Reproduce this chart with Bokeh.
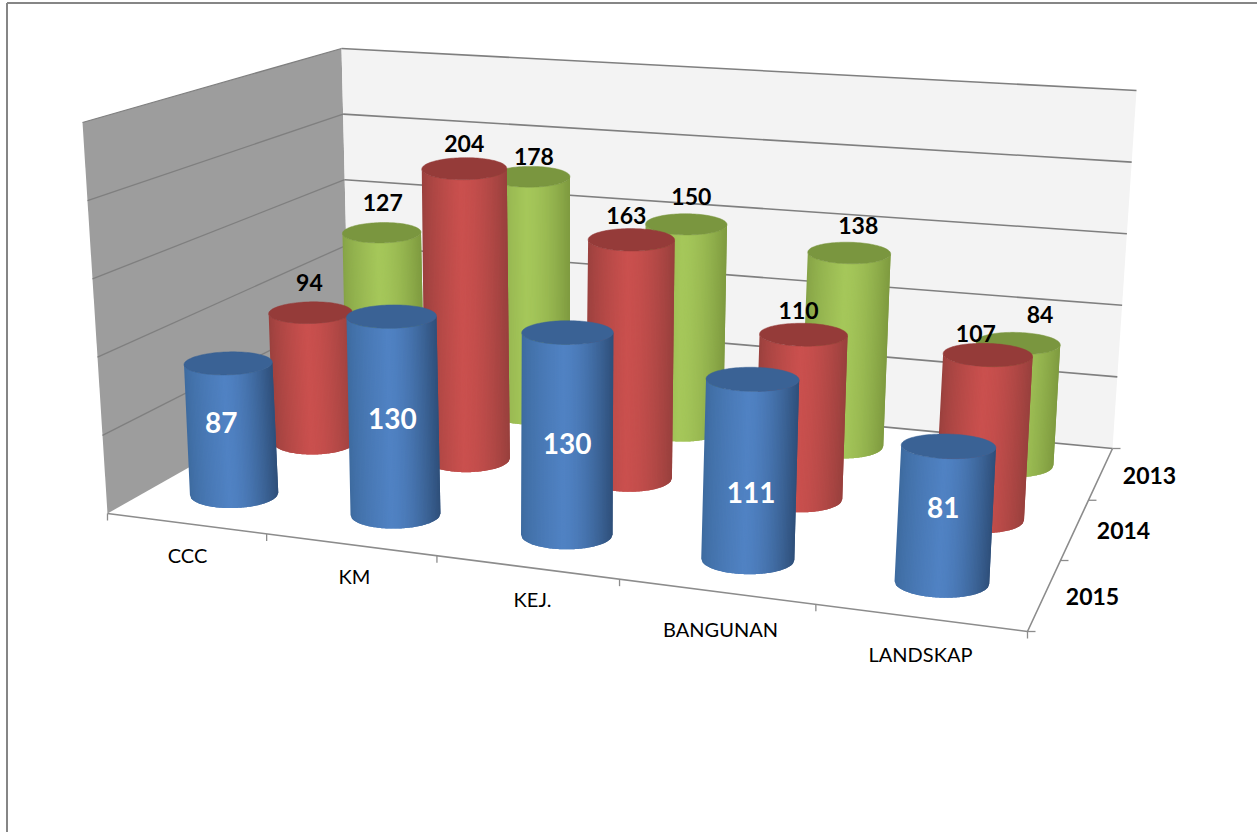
import numpy as np
from bokeh.plotting import figure
from bokeh.embed import file_html
from bokeh.resources import INLINE
from bokeh.core.properties import value as fixed

# ---------- data ----------
categories = ["CCC", "KM", "KEJ.", "BANGUNAN", "LANDSKAP"]
years = ["2015", "2014", "2013"]
values_2015 = [87, 130, 130, 111, 81]
values_2014 = [94, 204, 163, 110, 107]
values_2013 = [127, 178, 150, 138, 84]
value_ticks = [0, 50, 100, 150, 200, 250]

# ---------- layout ----------
W, H = 1257, 832
FONT = "Lato"
AXIS_MAX = 250.0
floor_quad = [(107, 513), (1027, 631), (1112, 448), (349, 376)]
top_quad = [(82, 122), (1052, 205), (1136, 90), (341, 48)]
U_CENTERS = [0.445, 1.465, 2.478, 3.478, 4.478]
Y_SHIFT = [6, 6, 6, 7, 7]
ROW_Y = {"2015": [0, 1, 1, 3, 3], "2014": [-4, -3, -1, 0, 1], "2013": [-3, -5, -3, -3, -1]}
ROW_SCALE = {
    "2015": [0.985, 0.98, 0.985, 1.01, 1.03],
    "2014": [0.95, 0.97, 0.98, 0.98, 0.992],
    "2013": [0.97, 0.957, 0.97, 0.975, 0.986],
}
V_SHIFT = 0.13
A_RATIO, B_TOP, B_BASE, TILT = 0.116, 0.26, 0.32, 7.7e-5

palettes = {
    "2015": dict(left="#3d6a9e", mid="#5082c3", right="#2e4f79", top="#3a6295"),
    "2014": dict(left="#98403d", mid="#ca504e", right="#98403d", top="#953b39"),
    "2013": dict(left="#84a145", mid="#a5c75a", right="#7e9a3f", top="#7a963f"),
}
label_off = {
    "2013": [(1, -30.5), (4, -20.5), (5, -28), (9, -27), (22, -28.5)],
    "2014": [(-1, -30), (0, -25), (-5, -24), (-5, -24), (-12, -22)],
    "2015": [(-10, -6), (-1, 3), (0, 10), (1, 23), (-2, -6.5)],
}
cat_label_xy = [(187, 554), (354, 575), (532, 598), (720, 628), (920, 653)]
year_label_xy = [(1092, 596), (1123, 530), (1149, 475)]


def homography(quad):
    src = [(0, 0), (5, 0), (5, 3), (0, 3)]
    A, b = [], []
    for (u, v), (x, y) in zip(src, quad):
        A.append([u, v, 1, 0, 0, 0, -u * x, -v * x]); b.append(x)
        A.append([0, 0, 0, u, v, 1, -u * y, -v * y]); b.append(y)
    return np.append(np.linalg.solve(np.array(A, float), np.array(b, float)), 1).reshape(3, 3)


HF = homography(floor_quad)
rise = np.array(top_quad, float) - np.array(floor_quad, float)


def rise_at(u, v):
    a, b = u / 5.0, v / 3.0
    return (1 - a) * (1 - b) * rise[0] + a * (1 - b) * rise[1] + a * b * rise[2] + (1 - a) * b * rise[3]


def proj(u, v, val):
    d = HF[2, 0] * u + HF[2, 1] * v + HF[2, 2]
    fx = (HF[0, 0] * u + HF[0, 1] * v + HF[0, 2]) / d
    fy = (HF[1, 0] * u + HF[1, 1] * v + HF[1, 2]) / d
    r = rise_at(u, v)
    k = val / AXIS_MAX
    return fx + r[0] * k, fy + r[1] * k


def hex2rgb(c):
    return np.array([int(c[i:i + 2], 16) for i in (1, 3, 5)], float)


def mix(a, b, t):
    c = hex2rgb(a) * (1 - t) + hex2rgb(b) * t
    return "#%02x%02x%02x" % tuple(int(round(x)) for x in c)


p = figure(width=W, height=H, x_range=(0, W), y_range=(H, 0), toolbar_location=None,
           output_backend="svg", min_border=0, outline_line_color=None)
p.axis.visible = False
p.grid.visible = False
p.background_fill_color = "white"
p.border_fill_color = "white"
p.styles = {"position": "absolute", "left": "0px", "top": "0px"}

# frame
p.segment([6.5, 6.5], [2.5, 2.5], [W, 6.5], [2.5, H], line_color="#868686", line_width=2)

# walls
lx = [proj(0, 0, 0)[0], proj(0, 3, 0)[0], proj(0, 3, AXIS_MAX)[0], proj(0, 0, AXIS_MAX)[0]]
ly = [proj(0, 0, 0)[1], proj(0, 3, 0)[1], proj(0, 3, AXIS_MAX)[1], proj(0, 0, AXIS_MAX)[1]]
p.patch(lx, ly, fill_color="#9d9d9d", line_color=None)
bx = [proj(0, 3, 0)[0], proj(5, 3, 0)[0], proj(5, 3, AXIS_MAX)[0], proj(0, 3, AXIS_MAX)[0]]
by = [proj(0, 3, 0)[1], proj(5, 3, 0)[1], proj(5, 3, AXIS_MAX)[1], proj(0, 3, AXIS_MAX)[1]]
p.patch(bx, by, fill_color="#f3f3f3", line_color=None)

# gridlines
for t in value_ticks:
    a, b, c = proj(0, 0, t), proj(0, 3, t), proj(5, 3, t)
    if t > 0:
        p.line([a[0], b[0]], [a[1], b[1]], line_color="#7f7f7f", line_width=1.3)
    p.line([b[0], c[0]], [b[1], c[1]], line_color="#7f7f7f", line_width=1.6)

# floor axes and ticks
a, b, c = proj(0, 0, 0), proj(5, 0, 0), proj(5, 3, 0)
p.line([a[0], b[0], c[0]], [a[1], b[1], c[1]], line_color="#8c8c8c", line_width=1.6)
for i in range(6):
    q = proj(i, 0, 0)
    p.line([q[0], q[0]], [q[1], q[1] + 7], line_color="#8c8c8c", line_width=1.3)
for j in range(4):
    q = proj(5, j, 0)
    p.line([q[0], q[0] + 8], [q[1], q[1]], line_color="#8c8c8c", line_width=1.3)

# cylinders, back row first
series = {"2015": values_2015, "2014": values_2014, "2013": values_2013}
lab_x, lab_y, lab_t, lab_c = [], [], [], []
N = 70
cos_t = np.linspace(-1, 1, N)
sin_t = np.sqrt(1 - cos_t ** 2)
th_full = np.linspace(0, 2 * np.pi, 121)[:-1]


def rim(cx, cy, aa, bb, c_, s_):
    slope = (cx - 590) * TILT
    return cx + aa * c_, cy + bb * s_ + slope * aa * c_


for j in (2, 1, 0):
    yr = years[j]
    pal = palettes[yr]
    for i, val in enumerate(series[yr]):
        rs = ROW_SCALE[yr][i]
        uc, vc = U_CENTERS[i], j + 0.5 + V_SHIFT
        ys = Y_SHIFT[i] + ROW_Y[yr][i]
        bx0, by0 = proj(uc, vc, 0)
        tx0, ty0 = proj(uc, vc, val * rs)
        by0 += ys
        ty0 += ys
        aa = A_RATIO * abs(rise_at(uc, vc)[1])
        tx, ty = rim(tx0, ty0, aa, aa * B_TOP, cos_t, sin_t)
        fx, fy = rim(bx0, by0, aa, aa * B_BASE, cos_t, sin_t)
        xs_s, ys_s, cols = [], [], []
        for k in range(N - 1):
            k2 = min(k + 2, N - 1)
            t = (k + 0.5) / (N - 1)
            if t < 0.45:
                col = mix(pal["left"], pal["mid"], (t / 0.45) ** 0.7)
            else:
                col = mix(pal["mid"], pal["right"], ((t - 0.45) / 0.55) ** 1.6)
            seg = list(range(k, k2 + 1))
            xs_s.append(list(tx[seg]) + list(fx[seg][::-1]))
            ys_s.append(list(ty[seg]) + list(fy[seg][::-1]))
            cols.append(col)
        p.patches(xs_s, ys_s, fill_color=cols, line_color=None)
        ex, ey = rim(tx0, ty0, aa, aa * B_TOP, np.cos(th_full), np.sin(th_full))
        p.patch(list(ex), list(ey), fill_color=pal["top"], line_color=pal["top"], line_width=0.5)
        off = label_off[yr][i]
        hh = val * rs / 2 if yr == "2015" else val * rs
        cx, cy = proj(uc, vc, hh)
        lab_x.append(cx + off[0]); lab_y.append(cy + ys + off[1]); lab_t.append(str(val))
        lab_c.append("white" if yr == "2015" else "black")

# value labels
for colr, sz in (("black", "23px"), ("white", "28px")):
    ids = [k for k, c in enumerate(lab_c) if c == colr]
    p.text([lab_x[k] for k in ids], [lab_y[k] for k in ids], [lab_t[k] for k in ids],
           text_color=colr, text_font=fixed(FONT), text_font_style="bold", text_font_size=sz,
           text_align="center", text_baseline="middle")

# axis labels
p.text([q[0] for q in cat_label_xy], [q[1] for q in cat_label_xy], categories,
       text_color="black", text_font=fixed(FONT), text_font_size="20px",
       text_align="center", text_baseline="middle")
p.text([q[0] for q in year_label_xy], [q[1] for q in year_label_xy], years,
       text_color="black", text_font=fixed(FONT), text_font_style="bold", text_font_size="23px",
       text_align="center", text_baseline="middle")

open("out.html", "w").write(file_html(p, INLINE))
